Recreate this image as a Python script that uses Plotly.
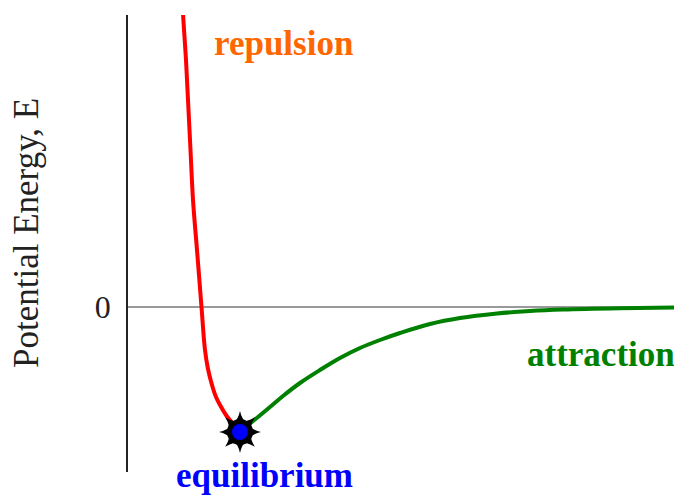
"""Potential energy curve between two atoms: repulsion, equilibrium, attraction."""

import plotly.graph_objects as go

# separation r (arbitrary units) and potential energy E (arbitrary units)
repulsion_r = [0.55, 0.565, 0.58, 0.60, 0.625, 0.65, 0.69, 0.735, 0.77, 0.80, 0.84, 0.88, 0.92, 0.98, 1.05, 1.12]
repulsion_e = [2.93, 2.70, 2.47, 2.07, 1.57, 1.07, 0.57, 0.00, -0.43, -0.62, -0.78, -0.90, -0.98, -1.08, -1.17, -1.25]

attraction_r = [1.12, 1.20, 1.30, 1.42, 1.55, 1.72, 1.92, 2.12, 2.32, 2.52, 2.72, 3.02, 3.32, 3.69, 4.02, 4.35, 4.92, 5.46]
attraction_e = [-1.25, -1.18, -1.10, -1.00, -0.89, -0.76, -0.63, -0.51, -0.41, -0.33, -0.26, -0.17, -0.11, -0.065, -0.04, -0.025, -0.012, -0.005]

equilibrium_r = [1.12]
equilibrium_e = [-1.25]

SERIF = "Liberation Serif, Times New Roman, serif"

fig = go.Figure()
fig.add_trace(go.Scatter(x=repulsion_r, y=repulsion_e, mode="lines", line_shape="spline",
                         line=dict(color="#ff0000", width=4), hoverinfo="skip"))
fig.add_trace(go.Scatter(x=attraction_r, y=attraction_e, mode="lines", line_shape="spline",
                         line=dict(color="#008000", width=4), hoverinfo="skip"))
# gear-like star: two 4-point stars, one turned 45 degrees, a black body, then the blue dot
for angle in (0, 45):
    fig.add_trace(go.Scatter(x=equilibrium_r, y=equilibrium_e, mode="markers",
                             marker=dict(symbol="star-square", size=27, angle=angle,
                                         color="black", line=dict(width=0)),
                             cliponaxis=False, hoverinfo="skip"))
fig.add_trace(go.Scatter(x=equilibrium_r, y=equilibrium_e, mode="markers",
                         marker=dict(symbol="circle", size=26, color="black", line=dict(width=0)),
                         cliponaxis=False, hoverinfo="skip"))
fig.add_trace(go.Scatter(x=equilibrium_r, y=equilibrium_e, mode="markers",
                         marker=dict(symbol="circle", size=16, color="#0000ff", line=dict(width=0)),
                         cliponaxis=False, hoverinfo="skip"))

label_font = dict(family=SERIF, size=35, weight="bold")
fig.add_annotation(x=1.55, y=2.64, text="repulsion", showarrow=False,
                   font=dict(label_font, color="#ff6600"))
fig.add_annotation(x=3.97, y=-0.47, text="attraction", showarrow=False, xanchor="left",
                   font=dict(label_font, color="#008000"))
# below the plot area, so placed in paper units vertically
fig.add_annotation(x=1.36, xref="x", y=-0.054, yref="paper", text="equilibrium", showarrow=False,
                   font=dict(label_font, color="#0000ff"))
fig.add_annotation(xref="paper", yref="paper", x=-0.185, y=0.523, text="Potential Energy, E",
                   textangle=-90, showarrow=False, xanchor="center", yanchor="middle",
                   borderpad=0, font=dict(family=SERIF, size=35, color="#222222"))

fig.update_layout(
    width=674,
    height=498,
    margin=dict(l=128, r=0, t=15, b=26),
    paper_bgcolor="white",
    plot_bgcolor="white",
    showlegend=False,
)
fig.update_xaxes(range=[0, 5.46], showgrid=False, zeroline=False, showline=False,
                 showticklabels=False, ticks="")
fig.update_yaxes(range=[-1.65, 2.92], showgrid=False, zeroline=True, zerolinecolor="#999999",
                 zerolinewidth=1.5, showline=True, linecolor="#222222", linewidth=1.5,
                 tickvals=[0], ticktext=["0"], ticks="", ticklabelstandoff=9,
                 tickfont=dict(family=SERIF, size=32, color="#222222"))

# drop the default 8px body margin so the 674x498 figure fills the window exactly
fig.write_html("out.html", config={"displayModeBar": False},
               post_script="document.body.style.margin = '0';")
